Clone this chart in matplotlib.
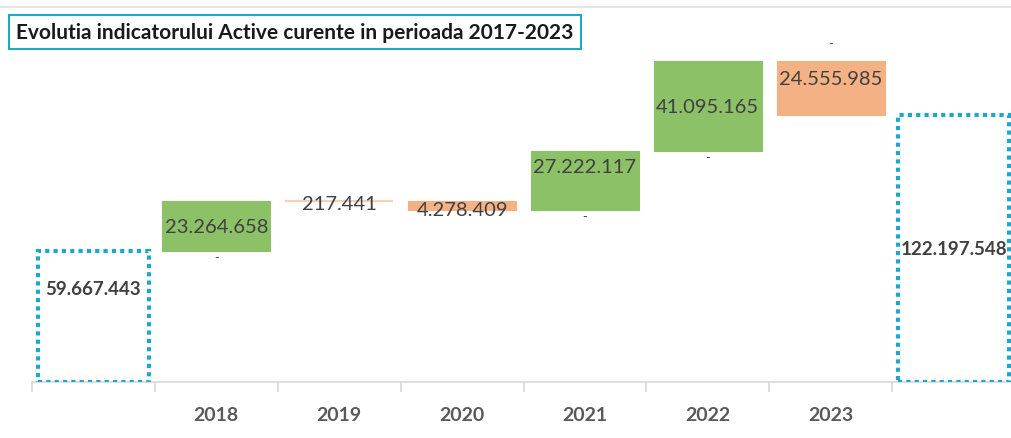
import matplotlib.pyplot as plt
from matplotlib.lines import Line2D

plt.rcParams['font.family'] = ['Lato', 'DejaVu Sans']

categories = ['', '2018', '2019', '2020', '2021', '2022', '2023', '']
start_value = 59667443
changes = [23264658, -217441, -4278409, 27222117, 41095165, -24555985]
end_value = 122197548

green = '#8CC168'
orange = '#F4B183'
blue = '#1FA7C9'
txt = '#404040'


def fmt(v):
    return '{:,}'.format(abs(v)).replace(',', '.')


fig = plt.figure(figsize=(10.11, 4.39), dpi=100)
ax = fig.add_axes([32/1011, 1-383/439, 983/1011, 350/439])

# start / end totals, dotted outline only
for i, v in [(0, start_value), (7, end_value)]:
    ax.bar(i, v, width=0.9, facecolor='none', edgecolor=blue,
           linewidth=3, linestyle=(0, (1, 1)), zorder=3)

# label offsets (px below bar top) just to mimic the original placement
label_dy = [26, 3, 8, 16, 46, 18]
level = start_value
for k, d in enumerate(changes):
    i = k + 1
    lo, hi = (level, level + d) if d > 0 else (level + d, level)
    col = green if d > 0 else orange
    lw = 1.6 if k == 1 else 0.8
    ax.bar(i, hi - lo, bottom=lo, width=0.88, color=col,
           edgecolor=col, linewidth=lw, alpha=0.6 if k == 1 else 1, zorder=2)
    ax.annotate(fmt(d), (i, hi), xytext=(0, -label_dy[k]), textcoords='offset pixels',
                ha='center', va='center', fontsize=14.5, color=txt, zorder=4)
    # small dash marks (zero series labels)
    if d > 0:
        ax.annotate('-', (i, lo), xytext=(0, -6), textcoords='offset pixels',
                    ha='center', va='center', fontsize=9, color=txt)
    elif k == 5:
        ax.annotate('-', (i, hi), xytext=(0, 18), textcoords='offset pixels',
                    ha='center', va='center', fontsize=9, color=txt)
    level += d

ax.annotate(fmt(start_value), (0, start_value), xytext=(0, -37), textcoords='offset pixels',
            ha='center', va='center', fontsize=13.5, fontweight='bold', color=txt, zorder=4)
ax.annotate(fmt(end_value), (7, end_value / 2), ha='center', va='center',
            fontsize=13.5, fontweight='bold', color=txt, zorder=4)

ax.set_xlim(-0.5, 7.5)
ax.set_ylim(0, 160000000)
for s in ['top', 'right', 'left']:
    ax.spines[s].set_visible(False)
ax.spines['bottom'].set_color('#D9D9D9')
ax.spines['bottom'].set_linewidth(1.2)
ax.set_yticks([])
ax.set_xticks(range(len(categories)))
ax.set_xticklabels(categories, fontsize=14, fontweight='bold', color='#595959')
ax.tick_params(axis='x', which='major', length=0, pad=17)
ax.set_xticks([x - 0.5 for x in range(len(categories) + 1)], minor=True)
ax.tick_params(axis='x', which='minor', length=7, width=1.2, color='#D9D9D9')

fig.add_artist(Line2D([0, 1], [1 - 8/439, 1 - 8/439], color='#E0E0E0', linewidth=1.2))
fig.text(16/1011, 1 - 33/439, 'Evolutia indicatorului Active curente in perioada 2017-2023',
         fontsize=15, fontweight='bold', color='#1A1A1A', va='center', ha='left',
         bbox=dict(boxstyle='square,pad=0.35', facecolor='white', edgecolor=blue, linewidth=1.5))

fig.savefig('out.png', dpi=100)
